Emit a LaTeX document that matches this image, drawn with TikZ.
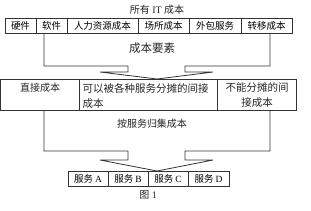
\documentclass[tikz,border=0pt]{standalone}
\usepackage{fontspec}
\newfontfamily\cjk{Noto Sans CJK SC}
\setmainfont{Liberation Serif}
\begin{document}
\begin{tikzpicture}[x=1pt,y=-1pt,
  ln/.style={draw=black!80,line width=0.8pt},
  cell/.style={ln,inner sep=0pt,minimum height=15pt,font=\cjk\fontsize{9.5}{11}\selectfont},
  lbl/.style={inner sep=0pt,text=black!85},
]
\useasboundingbox (0,0) rectangle (311,210);
% title
\node[lbl,font=\fontsize{10}{12}\selectfont] (title) at (157,10) {{\cjk 所有} IT {\cjk 成本}};
% top row
\node[cell,minimum width=31pt] (c1) at (20.5,25.5) {硬件};
\node[cell,minimum width=31pt] (c2) at (51.5,25.5) {软件};
\node[cell,minimum width=71pt] (c3) at (102.5,25.5) {人力资源成本};
\node[cell,minimum width=51pt] (c4) at (163.5,25.5) {场所成本};
\node[cell,minimum width=52pt] (c5) at (215,25.5) {外包服务};
\node[cell,minimum width=51pt] (c6) at (266.5,25.5) {转移成本};
% funnel 1
\draw[ln,line join=miter] (44,33) -- (44,66) -- (128,66) -- (128,72) -- (100,72) -- (157,79)
  -- (213,72) -- (185,72) -- (185,66) -- (270,66) -- (270,33);
\node[lbl,font=\cjk\fontsize{11.5}{13}\selectfont] (f1) at (152,48) {成本要素};
% middle row
\node[ln,inner sep=0pt,minimum width=78.5pt,minimum height=31pt] (m1) at (39.75,94.5) {};
\node[ln,inner sep=0pt,minimum width=138pt,minimum height=31pt] (m2) at (148,94.5) {};
\node[ln,inner sep=0pt,minimum width=79pt,minimum height=31pt] (m3) at (256.5,94.5) {};
\node[lbl,font=\cjk\fontsize{10}{15}\selectfont] (t1) at (40,88) {直接成本};
\node[lbl,font=\cjk\fontsize{10.5}{15}\selectfont,align=left,anchor=west] (t2) at (82.5,95.5)
  {可以被各种服务分摊的间接\\成本};
\node[lbl,font=\cjk\fontsize{10.5}{15}\selectfont,align=center] (t3) at (257,95.5)
  {不能分摊的间\\接成本};
% funnel 2
\draw[ln,line join=miter] (44,110) -- (44,151) -- (128,151) -- (128,160) -- (100,160) -- (157,171)
  -- (213,160) -- (185,160) -- (185,151) -- (270,151) -- (270,110);
\node[lbl,font=\cjk\fontsize{10}{12}\selectfont] (f2) at (152,124) {按服务归集成本};
% bottom row
\node[cell,minimum width=40pt] (s1) at (88,178.5) {服务 {\rmfamily A}};
\node[cell,minimum width=40pt] (s2) at (128,178.5) {服务 {\rmfamily B}};
\node[cell,minimum width=40pt] (s3) at (168,178.5) {服务 {\rmfamily C}};
\node[cell,minimum width=41pt] (s4) at (208.5,178.5) {服务 {\rmfamily D}};
\node[lbl,font=\fontsize{10}{12}\selectfont] (cap) at (148,195) {{\cjk 图} 1};
\end{tikzpicture}
\end{document}
